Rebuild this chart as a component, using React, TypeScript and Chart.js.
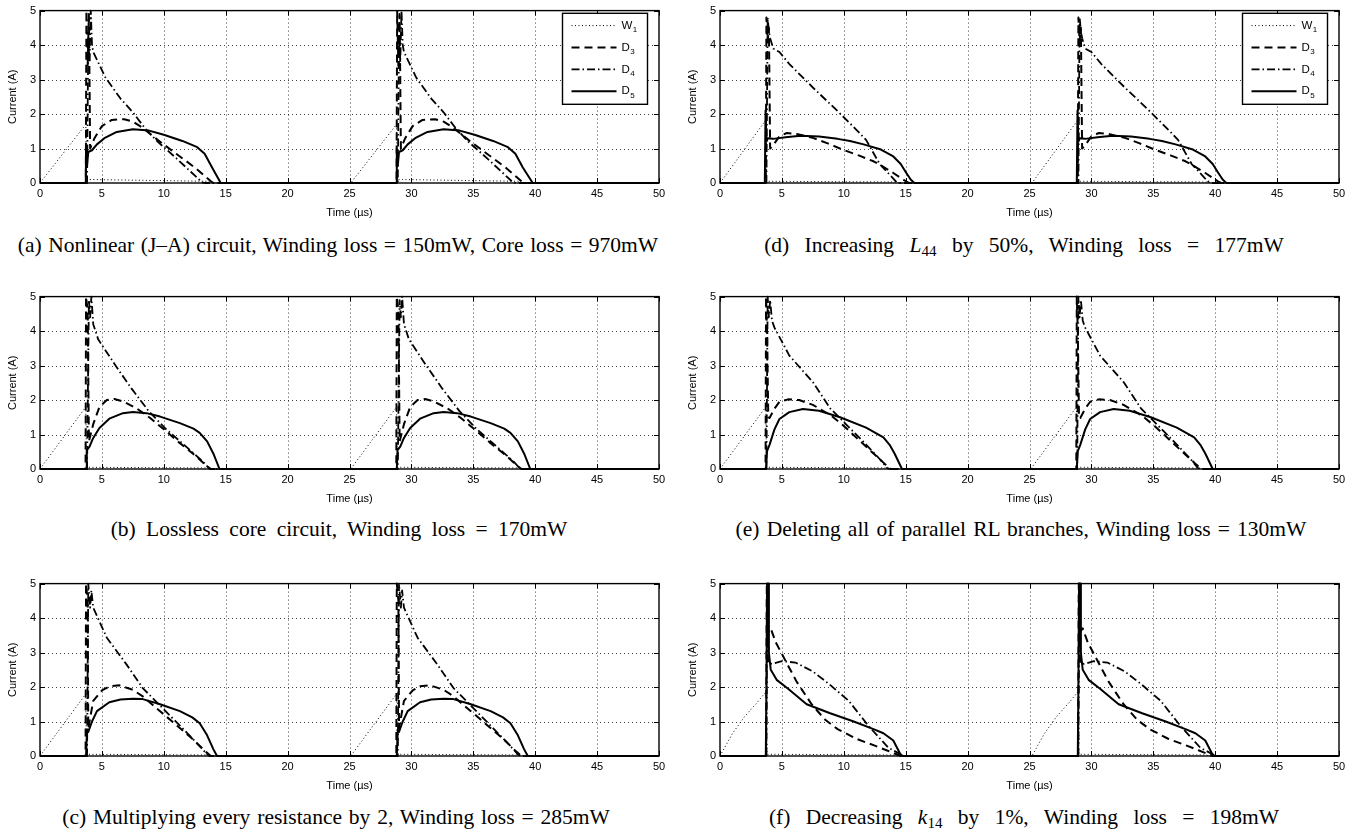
import React, { useEffect, useRef } from "react";
import { Chart, registerables } from "chart.js";

Chart.register(...registerables);

type Pt = [number, number];

// ---------- axis ranges / ticks ----------
const X_MIN = 0;
const X_MAX = 50;
const X_STEP = 5;
const Y_MIN = 0;
const Y_MAX = 5;
const Y_STEP = 1;
const X_TITLE = "Time (µs)";
const Y_TITLE = "Current (A)";
const SERIES_NAMES = ["W1", "D3", "D4", "D5"];

// ---------- (a) Nonlinear (J–A) circuit ----------
const A_W1: Pt[] = [[0,0],[3.7,1.7],[3.75,0.1],[4.2,0.1],[13.5,0.05],[14,0],[25.1,0],[28.8,1.7],[28.85,0.1],[29.3,0.1],[38.6,0.05],[39.1,0],[50,0]];
const A_D3: Pt[] = [[0,0],[3.7,0],[3.75,5],[3.85,3.4],[3.95,4.9],[4.05,1.0],[4.4,1.3],[5,1.65],[5.8,1.83],[6.8,1.85],[7.5,1.78],[8.3,1.6],[9.5,1.25],[11,0.85],[12.5,0.45],[13.8,0.05],[14,0],
  [28.8,0],[28.85,5],[28.95,3.4],[29.05,4.9],[29.15,1.0],[29.5,1.3],[30.1,1.65],[30.9,1.83],[31.9,1.85],[32.6,1.78],[33.4,1.6],[34.6,1.25],[36.1,0.85],[37.6,0.45],[38.9,0.05],[39.1,0],[50,0]];
const A_D4: Pt[] = [[0,0],[3.8,0],[3.9,4.2],[4.0,3.5],[4.1,5],[4.2,4.0],[4.3,3.8],[5.3,3.05],[6.5,2.45],[7.5,2.05],[8.5,1.58],[9.5,1.2],[11,0.72],[12.2,0.32],[13.1,0.02],[13.3,0],
  [28.9,0],[29,4.2],[29.1,3.5],[29.2,5],[29.3,4.0],[29.4,3.8],[30.4,3.05],[31.6,2.45],[32.6,2.05],[33.6,1.58],[34.6,1.2],[36.1,0.72],[37.3,0.32],[38.2,0.02],[38.4,0],[50,0]];
const A_D5: Pt[] = [[0,0],[3.7,0],[3.72,1.0],[3.8,0.5],[3.9,0.9],[4.2,0.95],[4.6,1.12],[5.2,1.3],[6.2,1.48],[7.5,1.56],[8.8,1.52],[10,1.4],[11.5,1.22],[12.7,1.04],[13.3,0.85],[13.9,0.45],[14.6,0],
  [28.8,0],[28.82,1.0],[28.9,0.5],[29,0.9],[29.3,0.95],[29.7,1.12],[30.3,1.3],[31.3,1.48],[32.6,1.56],[33.9,1.52],[35.1,1.4],[36.6,1.22],[37.8,1.04],[38.4,0.85],[39,0.45],[39.8,0],[50,0]];

// ---------- (b) Lossless core circuit ----------
const B_W1: Pt[] = [[0,0],[3.7,1.8],[3.75,0.05],[13.5,0.03],[14,0],[25.1,0],[28.8,1.8],[28.85,0.05],[38.6,0.03],[39.1,0],[50,0]];
const B_D3: Pt[] = [[0,0],[3.68,0],[3.72,5],[3.85,4.6],[3.95,0.8],[4.3,1.3],[4.8,1.8],[5.4,2.0],[6.0,2.03],[6.7,1.96],[7.8,1.76],[8.9,1.48],[10,1.15],[11.2,0.78],[12.5,0.4],[13.5,0.08],[13.8,0],
  [28.78,0],[28.82,5],[28.95,4.6],[29.05,0.8],[29.4,1.3],[29.9,1.8],[30.5,2.0],[31.1,2.03],[31.8,1.96],[32.9,1.76],[34,1.48],[35.1,1.15],[36.3,0.78],[37.6,0.4],[38.6,0.08],[38.9,0],[50,0]];
const B_D4: Pt[] = [[0,0],[3.8,0],[3.95,4.9],[4.05,4.4],[4.15,5],[4.3,4.2],[4.7,3.76],[6.1,3.0],[7.4,2.33],[8.8,1.67],[10.2,1.15],[11.8,0.65],[13.2,0.2],[13.7,0],
  [28.9,0],[29.05,4.9],[29.15,4.4],[29.25,5],[29.4,4.2],[29.8,3.76],[31.2,3.0],[32.5,2.33],[33.9,1.67],[35.3,1.15],[36.9,0.65],[38.3,0.2],[38.8,0],[50,0]];
const B_D5: Pt[] = [[0,0],[3.72,0],[3.78,0.55],[4,0.65],[4.3,0.9],[4.8,1.19],[5.6,1.46],[6.7,1.62],[7.5,1.65],[8.6,1.62],[9.7,1.52],[11.3,1.33],[12.4,1.17],[12.9,1.05],[13.5,0.8],[14,0.45],[14.5,0],
  [28.82,0],[28.88,0.55],[29.1,0.65],[29.4,0.9],[29.9,1.19],[30.7,1.46],[31.8,1.62],[32.6,1.65],[33.7,1.62],[34.8,1.52],[36.4,1.33],[37.5,1.17],[38,1.05],[38.6,0.8],[39.1,0.45],[39.6,0],[50,0]];

// ---------- (c) Multiplying every resistance by 2 ----------
const C_W1: Pt[] = [[0,0],[3.7,1.8],[3.75,0.05],[13.5,0.03],[14,0],[25.1,0],[28.8,1.8],[28.85,0.05],[38.6,0.03],[39.1,0],[50,0]];
const C_D3: Pt[] = [[0,0],[3.68,0],[3.72,5],[3.85,4.5],[3.9,0.8],[4.3,1.6],[5,1.9],[5.6,2.02],[6.4,2.05],[7.5,1.92],[8.3,1.73],[9.7,1.3],[11,0.9],[12.3,0.5],[13.4,0.12],[13.8,0],
  [28.78,0],[28.82,5],[28.95,4.5],[29,0.8],[29.4,1.6],[30.1,1.9],[30.7,2.02],[31.5,2.05],[32.6,1.92],[33.4,1.73],[34.8,1.3],[36.1,0.9],[37.4,0.5],[38.5,0.12],[38.9,0],[50,0]];
const C_D4: Pt[] = [[0,0],[3.8,0],[3.9,5],[4.05,4.3],[4.15,4.8],[4.3,4.3],[5.4,3.43],[7,2.65],[8.3,1.97],[9.9,1.39],[11.3,0.88],[12.6,0.4],[13.5,0.05],[13.7,0],
  [28.9,0],[29,5],[29.15,4.3],[29.25,4.8],[29.4,4.3],[30.5,3.43],[32.1,2.65],[33.4,1.97],[35,1.39],[36.4,0.88],[37.7,0.4],[38.6,0.05],[38.8,0],[50,0]];
const C_D5: Pt[] = [[0,0],[3.72,0],[3.8,0.75],[3.9,0.7],[4.2,1.0],[4.6,1.3],[5.6,1.56],[6.5,1.64],[7.5,1.66],[8.3,1.65],[9.7,1.5],[11.3,1.3],[12.3,1.12],[12.9,0.95],[13.5,0.6],[14,0.2],[14.3,0],
  [28.82,0],[28.9,0.75],[29,0.7],[29.3,1.0],[29.7,1.3],[30.7,1.56],[31.6,1.64],[32.6,1.66],[33.4,1.65],[34.8,1.5],[36.4,1.3],[37.4,1.12],[38,0.95],[38.6,0.6],[39.1,0.2],[39.4,0],[50,0]];

// ---------- (d) Increasing L44 by 50% ----------
const D_W1: Pt[] = [[0,0],[3.65,1.8],[3.7,0.05],[14,0.03],[14.5,0],[25.2,0],[28.85,1.8],[28.9,0.05],[39.2,0.03],[39.7,0],[50,0]];
const D_D3: Pt[] = [[0,0],[3.7,0],[3.75,4.8],[3.85,4.1],[3.95,4.5],[4.05,1.0],[4.3,1.1],[4.8,1.35],[5.4,1.45],[6.2,1.42],[7.5,1.31],[8.7,1.15],[9.9,0.97],[11.2,0.8],[12.4,0.63],[12.9,0.53],[14,0.29],[15.1,0.03],[15.3,0],
  [28.9,0],[28.95,4.8],[29.05,4.1],[29.15,4.5],[29.25,1.0],[29.5,1.1],[30,1.35],[30.6,1.45],[31.4,1.42],[32.7,1.31],[33.9,1.15],[35.1,0.97],[36.4,0.8],[37.6,0.63],[38.1,0.53],[39.2,0.29],[40.3,0.03],[40.5,0],[50,0]];
const D_D4: Pt[] = [[0,0],[3.75,0],[3.85,4.8],[3.95,4.4],[4.05,4.2],[4.3,3.9],[4.8,3.8],[5.6,3.45],[7.5,2.77],[9.4,2.12],[11,1.55],[11.8,1.25],[12.9,0.55],[14.2,0.05],[14.5,0],
  [28.95,0],[29.05,4.8],[29.15,4.4],[29.25,4.2],[29.5,3.9],[30,3.8],[30.8,3.45],[32.7,2.77],[34.6,2.12],[36.2,1.55],[37,1.25],[38.1,0.55],[39.4,0.05],[39.7,0],[50,0]];
const D_D5: Pt[] = [[0,0],[3.62,0],[3.68,2.1],[3.75,1.2],[3.85,1.3],[4.3,1.28],[5.3,1.33],[6.5,1.37],[8,1.35],[9.5,1.28],[10.5,1.22],[11.6,1.12],[13,0.97],[14,0.77],[14.6,0.55],[15,0.32],[15.4,0.1],[15.7,0],
  [28.82,0],[28.88,2.1],[28.95,1.2],[29.05,1.3],[29.5,1.28],[30.5,1.33],[31.7,1.37],[33.2,1.35],[34.7,1.28],[35.7,1.22],[36.8,1.12],[38.2,0.97],[39.2,0.77],[39.8,0.55],[40.2,0.32],[40.6,0.1],[40.9,0],[50,0]];

// ---------- (e) Deleting all of parallel RL branches ----------
const E_W1: Pt[] = [[0,0],[3.7,1.8],[3.75,0.05],[13.5,0.03],[14,0],[25.1,0],[28.8,1.8],[28.85,0.05],[38.6,0.03],[39.1,0],[50,0]];
const E_D3: Pt[] = [[0,0],[3.68,0],[3.72,5],[3.8,4.0],[3.9,1.5],[4,1.48],[4.4,1.75],[4.8,1.95],[5.5,2.02],[6.4,2],[7.5,1.86],[8.9,1.57],[10,1.25],[11.2,0.85],[12.4,0.45],[13.4,0.12],[13.8,0],
  [28.78,0],[28.82,5],[28.9,4.0],[29,1.5],[29.1,1.48],[29.5,1.75],[29.9,1.95],[30.6,2.02],[31.5,2],[32.6,1.86],[34,1.57],[35.1,1.25],[36.3,0.85],[37.5,0.45],[38.5,0.12],[38.9,0],[50,0]];
const E_D4: Pt[] = [[0,0],[3.75,0],[3.85,5],[3.95,4.4],[4.05,4.9],[4.2,4.3],[4.4,4.1],[5.6,3.29],[7.5,2.52],[8.9,1.76],[10.2,1.29],[11.8,0.71],[13,0.25],[13.5,0.03],[13.7,0],
  [28.85,0],[28.95,5],[29.05,4.4],[29.15,4.9],[29.3,4.3],[29.5,4.1],[30.7,3.29],[32.6,2.52],[34,1.76],[35.3,1.29],[36.9,0.71],[38.1,0.25],[38.6,0.03],[38.8,0],[50,0]];
const E_D5: Pt[] = [[0,0],[3.72,0],[3.8,0.52],[4,0.7],[4.4,1.15],[4.8,1.45],[5.6,1.65],[6.7,1.74],[8,1.69],[9.7,1.5],[11.8,1.2],[13.2,0.92],[13.7,0.7],[14.1,0.45],[14.7,0],
  [28.82,0],[28.9,0.52],[29.1,0.7],[29.5,1.15],[29.9,1.45],[30.7,1.65],[31.8,1.74],[33.1,1.69],[34.8,1.5],[36.9,1.2],[38.3,0.92],[38.8,0.7],[39.2,0.45],[39.8,0],[50,0]];

// ---------- (f) Decreasing k14 by 1% ----------
const F_W1: Pt[] = [[0,0],[1,0.65],[2,1.15],[3,1.55],[3.75,1.88],[3.8,0.05],[14,0.03],[14.5,0],[25.2,0],[26.2,0.65],[27.2,1.15],[28.2,1.55],[28.95,1.88],[29,0.05],[39.2,0.03],[39.7,0],[50,0]];
const F_D3: Pt[] = [[0,0],[3.72,0],[3.78,5],[3.9,3.6],[4.1,3.7],[4.5,3.3],[5.5,2.62],[6.2,2.15],[7.4,1.5],[8.5,1.05],[9.5,0.78],[11,0.5],[12.5,0.3],[13.5,0.16],[14.4,0.03],[14.6,0],
  [28.92,0],[28.98,5],[29.1,3.6],[29.3,3.7],[29.7,3.3],[30.7,2.62],[31.4,2.15],[32.6,1.5],[33.7,1.05],[34.7,0.78],[36.2,0.5],[37.7,0.3],[38.7,0.16],[39.6,0.03],[39.8,0],[50,0]];
const F_D4: Pt[] = [[0,0],[3.75,0],[3.8,3.5],[3.9,2.7],[4.2,2.67],[5,2.75],[6.1,2.71],[7.5,2.45],[8.8,2.09],[10.4,1.6],[12,0.87],[13.6,0.24],[14.7,0.03],[14.9,0],
  [28.95,0],[29,3.5],[29.1,2.7],[29.4,2.67],[30.2,2.75],[31.3,2.71],[32.7,2.45],[34,2.09],[35.6,1.6],[37.2,0.87],[38.8,0.24],[39.9,0.03],[40.1,0],[50,0]];
const F_D5: Pt[] = [[0,0],[3.7,0],[3.75,2.0],[3.8,5],[3.88,5],[3.95,3.0],[4.1,2.5],[4.6,2.2],[5.5,1.95],[7,1.5],[8.9,1.24],[10.8,1.0],[12.4,0.78],[13.2,0.66],[14,0.45],[14.6,0.03],[14.8,0],
  [28.9,0],[28.95,2.0],[29,5],[29.08,5],[29.15,3.0],[29.3,2.5],[29.8,2.2],[30.7,1.95],[32.2,1.5],[34.1,1.24],[36,1.0],[37.6,0.78],[38.4,0.66],[39.2,0.45],[39.8,0.03],[40,0],[50,0]];

// ---------- styles ----------
const FONT = "'Liberation Sans', Arial, Helvetica, sans-serif";
const SERIF = "'Liberation Serif', 'Times New Roman', Times, serif";
const LINE_STYLES = [
  { borderWidth: 1, borderDash: [1, 2.5] },
  { borderWidth: 2, borderDash: [8, 5] },
  { borderWidth: 1.8, borderDash: [8, 3, 1.5, 3] },
  { borderWidth: 2, borderDash: [] as number[] },
];

const gridPlugin = {
  id: "matlabGrid",
  beforeDatasetsDraw(chart: any) {
    const { ctx, chartArea, scales } = chart;
    const { left, right, top, bottom } = chartArea;
    ctx.save();
    ctx.strokeStyle = "rgba(0,0,0,0.75)";
    ctx.lineWidth = 1;
    ctx.setLineDash([1, 3]);
    ctx.beginPath();
    scales.x.ticks.forEach((t: any) => {
      const px = Math.round(scales.x.getPixelForValue(t.value)) + 0.5;
      if (px <= left + 1 || px >= right - 1) return;
      ctx.moveTo(px, top);
      ctx.lineTo(px, bottom);
    });
    scales.y.ticks.forEach((t: any) => {
      const py = Math.round(scales.y.getPixelForValue(t.value)) + 0.5;
      if (py <= top + 1 || py >= bottom - 1) return;
      ctx.moveTo(left, py);
      ctx.lineTo(right, py);
    });
    ctx.stroke();
    ctx.restore();
  },
};

const framePlugin = {
  id: "matlabFrame",
  afterDraw(chart: any) {
    const { ctx, chartArea, scales } = chart;
    const { left, right, top, bottom } = chartArea;
    const xs = scales.x;
    const ys = scales.y;
    const tl = 5;
    ctx.save();
    ctx.strokeStyle = "#000";
    ctx.lineWidth = 1;
    ctx.setLineDash([]);
    ctx.beginPath();
    xs.ticks.forEach((t: any) => {
      const px = Math.round(xs.getPixelForValue(t.value)) + 0.5;
      ctx.moveTo(px, bottom);
      ctx.lineTo(px, bottom - tl);
      ctx.moveTo(px, top);
      ctx.lineTo(px, top + tl);
    });
    ys.ticks.forEach((t: any) => {
      const py = Math.round(ys.getPixelForValue(t.value)) + 0.5;
      ctx.moveTo(left, py);
      ctx.lineTo(left + tl, py);
      ctx.moveTo(right, py);
      ctx.lineTo(right - tl, py);
    });
    ctx.stroke();
    ctx.lineWidth = 1.4;
    ctx.strokeRect(left, top, right - left, bottom - top);
    ctx.restore();
  },
};

const boxLegendPlugin = {
  id: "boxLegend",
  afterDraw(chart: any, _args: any, opts: any) {
    if (!opts || !opts.show) return;
    const { ctx, chartArea } = chart;
    const w = 85;
    const h = 91;
    const x0 = chartArea.right - 11.5 - w;
    const y0 = chartArea.top + 2.7;
    ctx.save();
    ctx.fillStyle = "#fff";
    ctx.fillRect(x0, y0, w, h);
    ctx.strokeStyle = "#000";
    ctx.lineWidth = 1.4;
    ctx.setLineDash([]);
    ctx.strokeRect(x0, y0, w, h);
    chart.data.datasets.forEach((ds: any, i: number) => {
      const y = y0 + 12.3 + i * 21.9;
      ctx.beginPath();
      ctx.setLineDash(ds.borderDash || []);
      ctx.lineWidth = ds.borderWidth;
      ctx.strokeStyle = "#000";
      ctx.moveTo(x0 + 9, y);
      ctx.lineTo(x0 + 54, y);
      ctx.stroke();
      ctx.setLineDash([]);
      const label: string = ds.label;
      const main = label.slice(0, 1);
      const sub = label.slice(1);
      ctx.fillStyle = "#000";
      ctx.textAlign = "left";
      ctx.textBaseline = "middle";
      ctx.font = `11.5px ${FONT}`;
      ctx.fillText(main, x0 + 59, y);
      const mw = ctx.measureText(main).width;
      ctx.font = `8px ${FONT}`;
      ctx.fillText(sub, x0 + 59 + mw + 0.5, y + 4.5);
    });
    ctx.restore();
  },
};

type PanelProps = { left: number; top: number; series: Pt[][]; legend: boolean };

function Panel({ left, top, series, legend }: PanelProps) {
  const ref = useRef<HTMLCanvasElement | null>(null);
  useEffect(() => {
    if (!ref.current) return;
    const chart = new Chart(ref.current, {
      type: "line",
      data: {
        datasets: series.map((pts, i) => ({
          label: SERIES_NAMES[i],
          data: pts.map(([x, y]) => ({ x, y })),
          borderColor: "#000",
          backgroundColor: "#000",
          borderWidth: LINE_STYLES[i].borderWidth,
          borderDash: LINE_STYLES[i].borderDash,
          borderJoinStyle: "round",
          pointRadius: 0,
          tension: 0,
          fill: false,
          clip: 6,
        })),
      },
      options: {
        animation: false,
        responsive: false,
        devicePixelRatio: 1,
        layout: { padding: { top: 10, right: 21, left: 0, bottom: 0 } },
        plugins: {
          legend: { display: false },
          tooltip: { enabled: false },
          boxLegend: { show: legend },
        } as any,
        scales: {
          x: {
            type: "linear",
            min: X_MIN,
            max: X_MAX,
            afterFit: (s: any) => { s.height = 42; },
            ticks: { stepSize: X_STEP, color: "#000", font: { family: FONT, size: 11 }, padding: 4, maxRotation: 0, autoSkip: false },
            grid: { display: false, drawTicks: false },
            border: { display: false },
            title: { display: true, text: X_TITLE, color: "#000", font: { family: FONT, size: 11 }, padding: { top: 0, bottom: 5.2 } },
          },
          y: {
            type: "linear",
            min: Y_MIN,
            max: Y_MAX,
            afterFit: (s: any) => { s.width = 40; },
            ticks: { stepSize: Y_STEP, color: "#000", font: { family: FONT, size: 11 }, padding: 4 },
            grid: { display: false, drawTicks: false },
            border: { display: false },
            title: { display: true, text: Y_TITLE, color: "#000", font: { family: FONT, size: 11 }, padding: { top: 6.4, bottom: 0 } },
          },
        },
      } as any,
      plugins: [gridPlugin, framePlugin, boxLegendPlugin],
    });
    return () => chart.destroy();
  }, []);
  return (
    <div style={{ position: "absolute", left, top, width: 680, height: 225 }}>
      <canvas ref={ref} width={680} height={225} style={{ width: 680, height: 225, display: "block" }} />
    </div>
  );
}

function Caption({ cx, top, ws, children }: { cx: number; top: number; ws: number; children: React.ReactNode }) {
  return (
    <div
      style={{
        position: "absolute",
        left: cx - 340,
        top,
        width: 680,
        height: 26,
        lineHeight: "26px",
        textAlign: "center",
        fontFamily: SERIF,
        fontSize: 21.5,
        wordSpacing: ws,
        color: "#000",
        whiteSpace: "nowrap",
      }}
    >
      {children}
    </div>
  );
}

const subStyle: React.CSSProperties = { fontSize: "0.7em", verticalAlign: "-0.25em", lineHeight: 0, fontStyle: "normal", wordSpacing: 0 };

export default function App() {
  return (
    <div style={{ position: "absolute", left: 0, top: 0, width: 1357, height: 833, background: "#fff", overflow: "hidden" }}>
      <Panel left={0} top={0} series={[A_W1, A_D3, A_D4, A_D5]} legend={true} />
      <Panel left={0} top={286} series={[B_W1, B_D3, B_D4, B_D5]} legend={false} />
      <Panel left={0} top={573} series={[C_W1, C_D3, C_D4, C_D5]} legend={false} />
      <Panel left={680} top={0} series={[D_W1, D_D3, D_D4, D_D5]} legend={true} />
      <Panel left={680} top={286} series={[E_W1, E_D3, E_D4, E_D5]} legend={false} />
      <Panel left={680} top={573} series={[F_W1, F_D3, F_D4, F_D5]} legend={false} />
      <Caption cx={338} top={232} ws={1.2}>(a) Nonlinear (J–A) circuit, Winding loss = 150mW, Core loss = 970mW</Caption>
      <Caption cx={339} top={516} ws={5}>(b) Lossless core circuit, Winding loss = 170mW</Caption>
      <Caption cx={336} top={804} ws={1.5}>(c) Multiplying every resistance by 2, Winding loss = 285mW</Caption>
      <Caption cx={1024} top={232} ws={10}>
        (d) Increasing <i>L</i><sub style={subStyle}>44</sub> by 50%, Winding loss = 177mW
      </Caption>
      <Caption cx={1021} top={516} ws={1.8}>(e) Deleting all of parallel RL branches, Winding loss = 130mW</Caption>
      <Caption cx={1024} top={804} ws={10}>
        (f) Decreasing <i>k</i><sub style={subStyle}>14</sub> by 1%, Winding loss = 198mW
      </Caption>
    </div>
  );
}
